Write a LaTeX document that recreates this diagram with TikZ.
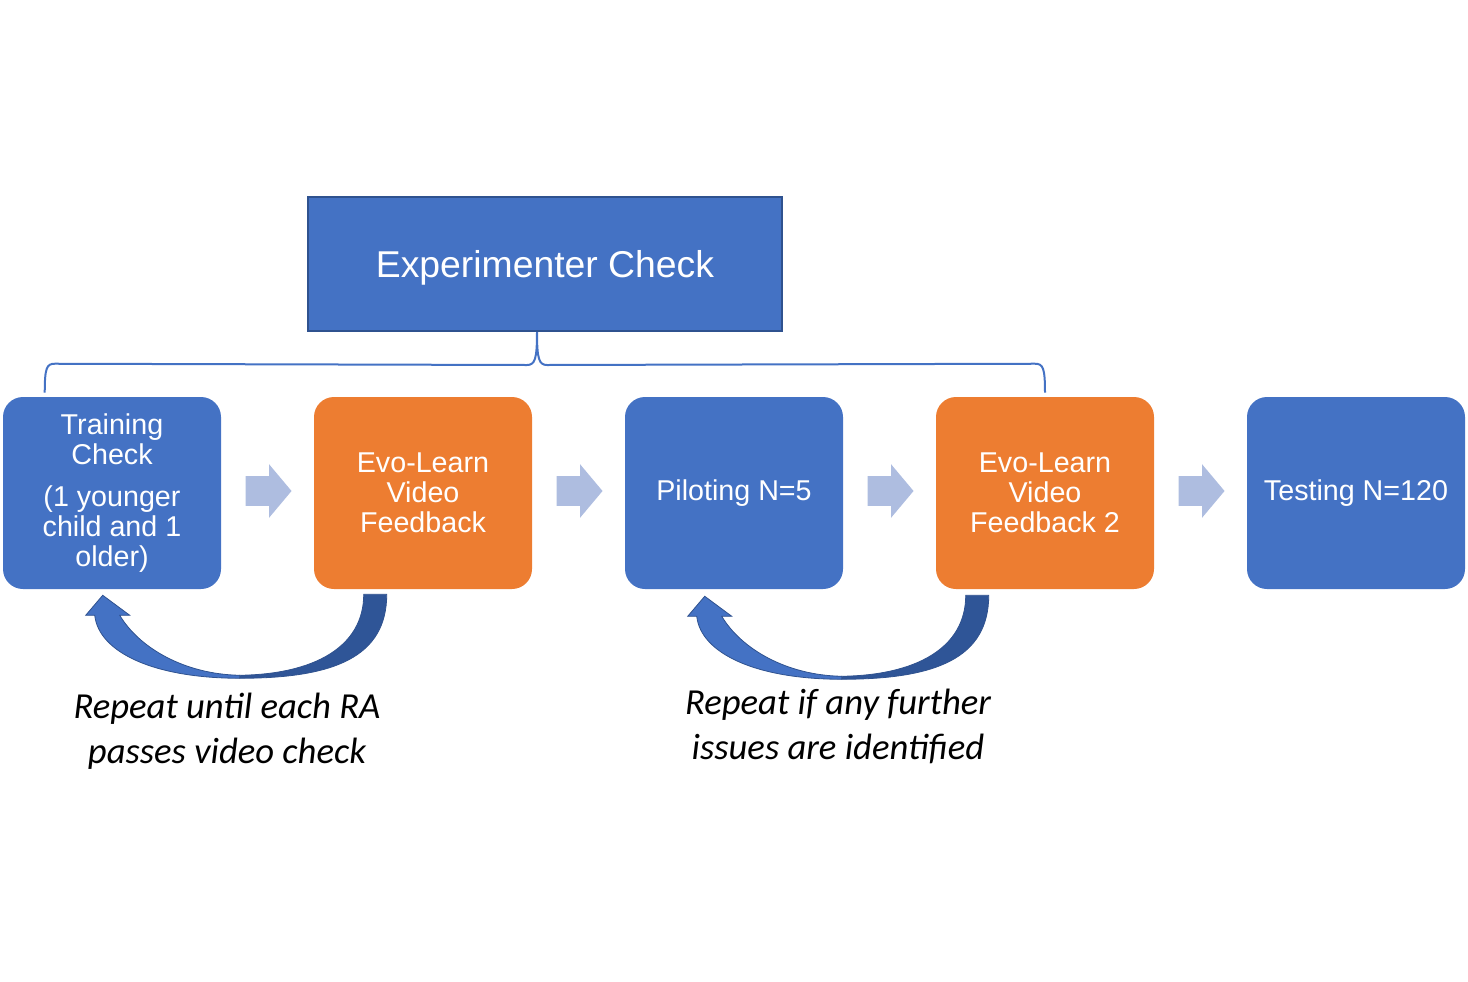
\documentclass[tikz,border=0pt]{standalone}
\usepackage{fontspec}
\setmainfont{Liberation Sans}
\newfontfamily\notefont{Carlito}
\usetikzlibrary{calc}
\usetikzlibrary{shapes.arrows}
\definecolor{boxblue}{HTML}{4472C4}
\definecolor{edgeblue}{HTML}{2F528F}
\definecolor{darkblue}{HTML}{2F5597}
\definecolor{boxorange}{HTML}{ED7D31}
\definecolor{chevblue}{RGB}{174,189,224}
\tikzstyle{stage} = [fill=boxblue, text=white, rounded corners=15pt, minimum width=163.5pt, minimum height=144pt, inner sep=0pt, align=center, font=\fontsize{21.5}{22.5}\selectfont]
\tikzstyle{feedback} = [stage, fill=boxorange]
\tikzstyle{check} = [fill=boxblue, draw=edgeblue, line width=1.5pt, text=white, minimum width=355.5pt, minimum height=100.5pt, text depth=0pt, font=\fontsize{28}{30}\selectfont]
\tikzstyle{chev} = [single arrow, fill=chevblue, minimum height=34.5pt, minimum width=0pt, inner xsep=0pt, inner ysep=10.875pt, single arrow head extend=9pt, single arrow tip angle=100, anchor=tail]
\tikzstyle{brace} = [draw=boxblue, line width=1.5pt]
\tikzstyle{note} = [align=center, font=\notefont\itshape\fontsize{27.5}{33.75}\selectfont]
% curved "repeat" arrow, drawn relative to the current origin
\newcommand{\repeatArrow}{%
  \fill[darkblue, draw=edgeblue, line width=0.6pt] (73,7) .. controls (73,70) and (20,91) .. (-74,91)
    -- (-74,88) .. controls (0,87) and (50,60) .. (50,7) -- cycle;
  \fill[boxblue, draw=edgeblue, line width=0.6pt] (-74,91) .. controls (-160,91) and (-215,65) .. (-219,28)
    -- (-228,28) -- (-211,8) -- (-184,28) -- (-194,28)
    .. controls (-175,60) and (-130,87) .. (-74,88) -- cycle;
}

\begin{document}
\begin{tikzpicture}[x=0.75pt, y=-0.75pt]
        \useasboundingbox (0,0) rectangle (1468,982);

        \node[check] (exper) at (545,264) {Experimenter Check};

        \node[stage] (train) at (112,493) {Training\\Check\\[9pt](1 younger\\child and 1\\older)};
        \node[feedback] (evoA) at (423,493) {Evo-Learn\\Video\\Feedback};
        \node[stage] (pilot) at (734,493) {Piloting N=5};
        \node[feedback] (evoB) at (1045,493) {Evo-Learn\\Video\\Feedback 2};
        \node[stage] (test) at (1356,493) {Testing N=120};

        \node[chev] (chevA) at ($(train.east)+(24,-2)$) {};
        \node[chev] (chevB) at ($(evoA.east)+(24,-2)$) {};
        \node[chev] (chevC) at ($(pilot.east)+(24,-2)$) {};
        \node[chev] (chevD) at ($(evoB.east)+(24,-2)$) {};

        % brace under the experimenter check
        \coordinate (braceL) at ($(train.north west)+(42,-4)$);
        \coordinate (braceR) at ($(evoB.north)+(0,-4)$);
        \coordinate (bump) at ($(exper.south)+(-8,0)$);
        \draw[brace] (braceL) .. controls +(0,-25) and +(-8,0) .. ($(braceL)+(10,-29)$)
            -- ($(bump)+(-10,33)$) .. controls +(8,0) and +(0,27) .. (bump)
            .. controls +(0,27) and +(-8,0) .. ($(bump)+(10,33)$)
            -- ($(braceR)+(-10,-29)$) .. controls +(8,0) and +(0,-25) .. (braceR);

        \begin{scope}[shift={($(evoA.south west)+(0,-2)$)}]
            \repeatArrow
        \end{scope}
        \begin{scope}[shift={($(evoB.south west)+(-20,-1)$)}]
            \repeatArrow
        \end{scope}

        \node[note] (noteA) at (227,731) {Repeat until each RA\\passes video check};
        \node[note] (noteB) at (838,726) {Repeat if any further\\issues are identified};
\end{tikzpicture}
\end{document}
